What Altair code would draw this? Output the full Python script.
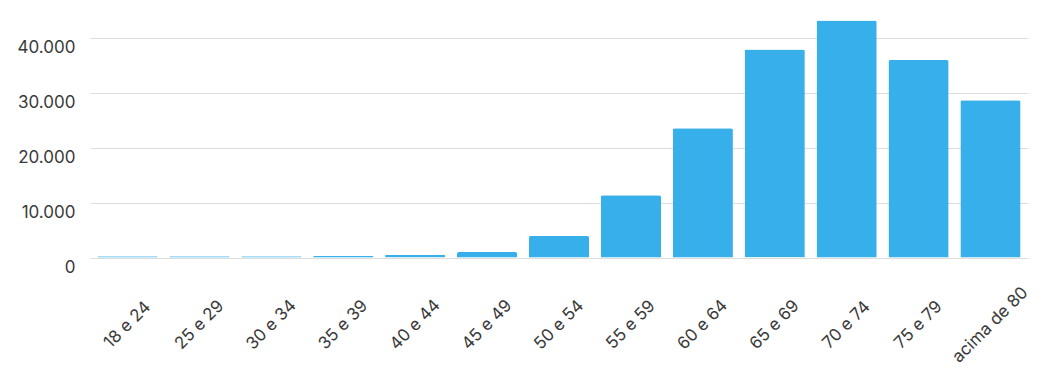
import altair as alt
import pandas as pd

categories = ["18 e 24", "25 e 29", "30 e 34", "35 e 39", "40 e 44", "45 e 49",
              "50 e 54", "55 e 59", "60 e 64", "65 e 69", "70 e 74", "75 e 79",
              "acima de 80"]
values = [250, 250, 250, 280, 500, 1000, 3900, 11300, 23500, 37800, 43100, 35900, 28600]
y_ticks = [0, 10000, 20000, 30000, 40000]

df = pd.DataFrame({"faixa": categories, "valor": values})

FONT = "Inter"

chart = alt.Chart(df).mark_bar(
    color="#36AFEA", cornerRadiusTopLeft=2, cornerRadiusTopRight=2
).encode(
    x=alt.X("faixa:N", sort=categories, title=None,
            scale=alt.Scale(paddingInner=0.163, paddingOuter=0.104),
            axis=alt.Axis(labelAngle=-45, labelAlign="center", labelBaseline="middle",
                          labelPadding=67, ticks=False, domain=False,
                          labelFontSize=17, labelColor="#3a3a3a", labelFont=FONT)),
    y=alt.Y("valor:Q", title=None,
            scale=alt.Scale(domain=[0, 45000], nice=False),
            axis=alt.Axis(values=y_ticks, ticks=False, domain=False, labelPadding=15,
                          labelFontSize=17, labelColor="#3a3a3a", labelFont=FONT,
                          labelBaseline="middle", labelOffset=10,
                          labelExpr="replace(format(datum.value, ',d'), ',', '.')",
                          gridColor="#dddddd", gridWidth=1)),
).properties(
    width=938, height=247.5,
    autosize=alt.AutoSizeParams(type="none"),
    padding={"left": 90, "top": 10, "right": 24, "bottom": 125},
).configure_view(stroke=None)

chart.save("out.html", embed_options={"renderer": "svg", "actions": False})
